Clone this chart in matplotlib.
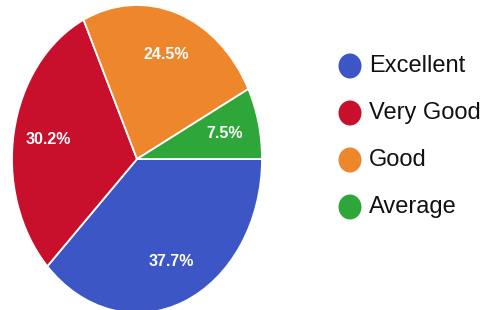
import matplotlib
matplotlib.use("Agg")
import matplotlib.pyplot as plt
from matplotlib.patches import Ellipse

categories = ["Excellent", "Very Good", "Good", "Average"]
values = [37.7, 30.2, 24.5, 7.5]
colors = ["#3d56c6", "#c8102c", "#ee862c", "#2fa63a"]

W, H = 497, 310
fig = plt.figure(figsize=(W / 100, H / 100), dpi=100)
fig.patch.set_facecolor("white")

# Pie axes (stretched vertically like the reference)
left, right, top, bottom = 12, 262, 5, 313
ax = fig.add_axes([left / W, (H - bottom) / H, (right - left) / W, (bottom - top) / H])
wedges, texts, autotexts = ax.pie(
    values, colors=colors, startangle=0, counterclock=False,
    autopct="%.1f%%", pctdistance=0.72,
    wedgeprops=dict(edgecolor="white", linewidth=1.3),
    textprops=dict(color="white", fontsize=11.5, fontweight="bold",
                   family=["Liberation Sans", "DejaVu Sans"]),
)
ax.set_aspect("auto")
ax.set_xlim(-1, 1)
ax.set_ylim(-1, 1)
ax.axis("off")

# Legend drawn on an overlay axes in pixel coordinates
lax = fig.add_axes([0, 0, 1, 1])
lax.set_xlim(0, W)
lax.set_ylim(H, 0)
lax.axis("off")
y0, dy = 66, 47
for i, (cat, col) in enumerate(zip(categories, colors)):
    y = y0 + i * dy
    lax.add_patch(Ellipse((350, y), 23, 25, facecolor=col, edgecolor="none"))
    lax.text(369, y, cat, fontsize=17, va="center", ha="left", color="#111111",
             family=["Liberation Sans", "DejaVu Sans"])

fig.savefig("out.png", dpi=100)
